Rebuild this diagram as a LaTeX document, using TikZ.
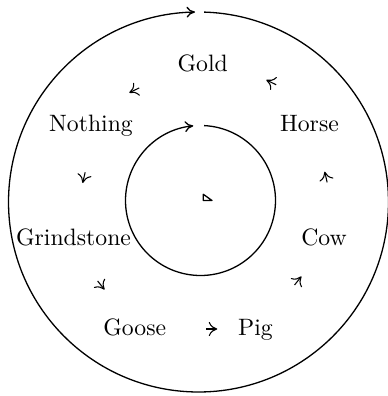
\documentclass[tikz,border=0pt]{standalone}
\usetikzlibrary{arrows.meta,calc}
\begin{document}
\begin{tikzpicture}[x=0.4219pt,y=0.4219pt,
  lbl/.style={anchor=base,inner sep=0pt,font=\normalsize},
  ring/.style={line width=0.55pt,-{To[length=3.6pt,width=4.6pt]}},
  stub/.style={line width=0.45pt,-{To[length=3.6pt,width=6pt]}}]
\useasboundingbox (0,0) rectangle (387,-396);
% labels
\node[lbl] (gold) at (202.7,-71.2) {Gold};
\node[lbl] (horse) at (309.5,-131.2) {Horse};
\node[lbl] (cow) at (324,-245.5) {Cow};
\node[lbl] (pig) at (255.5,-335.6) {Pig};
\node[lbl] (goose) at (134.7,-335.6) {Goose};
\node[lbl] (grind) at (73.5,-245.5) {Grindstone};
\node[lbl] (nothing) at (91,-131.2) {Nothing};
% outer and inner rings
\coordinate (oc) at (198.5,-202);
\coordinate (ic) at (200.5,-200.5);
\draw[ring] ($(oc)+(88.3:190)$) arc[start angle=88.3,end angle=-268.95,radius=190];
\draw[ring] ($(ic)+(87.3:75)$) arc[start angle=87.3,end angle=-264.5,radius=75];
% small arrows between consecutive labels
\foreach \n/\x/\y/\d in {t1/129.3/-92.7/205.7, t2/82.7/-183/257.1, t3/104.5/-289.6/308.6,
  t4/217.3/-329/0, t5/301.4/-276.4/51.4, t6/324.7/-171.7/102.9, t7/266.3/-80/154.3}{
  \coordinate (\n) at (\x,\y);
  \draw[stub] ($(\n)+(\d+180:11)$) -- (\n);
}
% centre mark
\draw[line width=0.55pt,line join=round] (203.3,-194.3) -- (203.3,-200.5) -- (212,-200.5) -- cycle;
\end{tikzpicture}
\end{document}
